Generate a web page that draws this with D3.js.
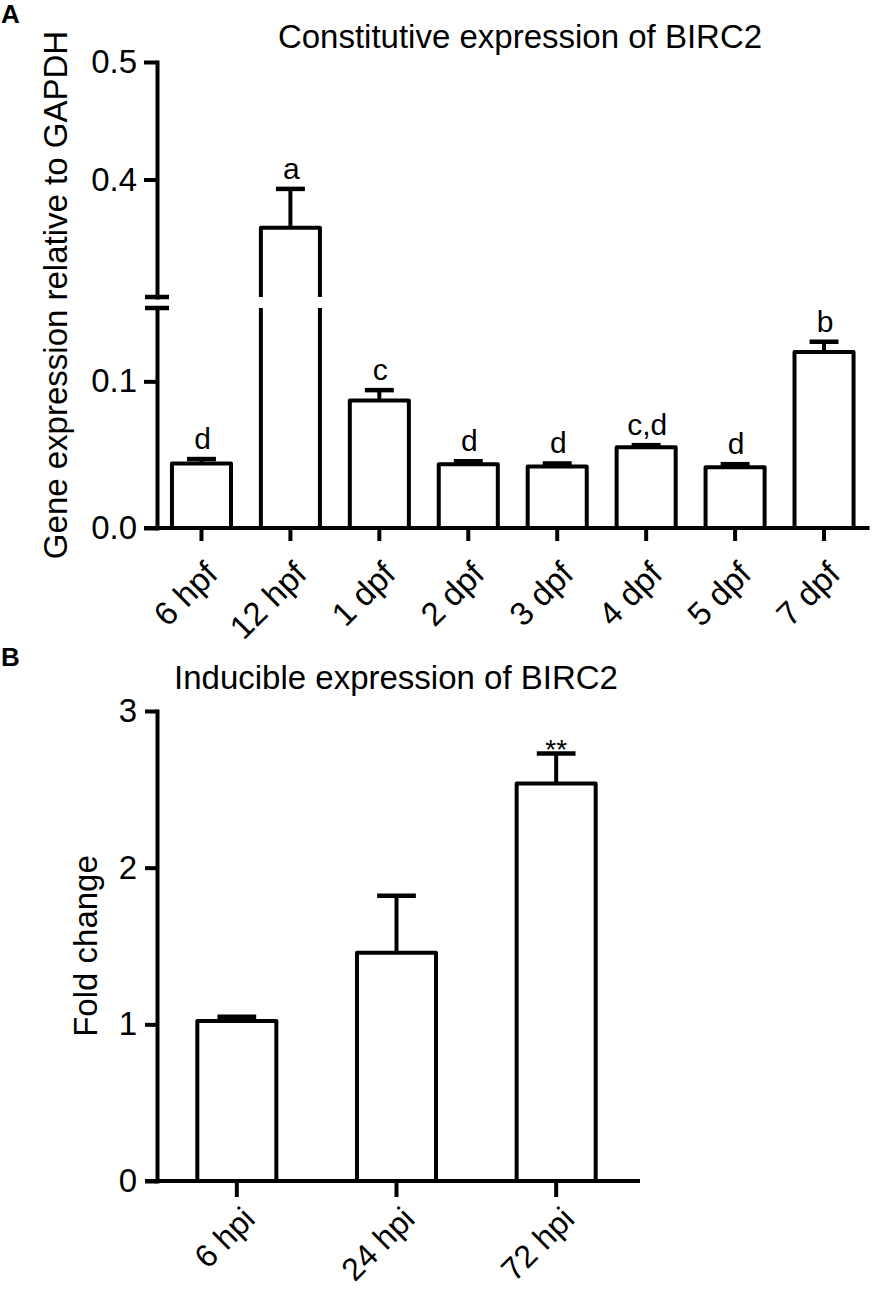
<!DOCTYPE html>
<html lang="en">
<head>
<meta charset="UTF-8">
<title>BIRC2 expression</title>
<style>
  body { margin: 0; background: #fff; }
  svg { display: block; font-family: "Liberation Sans", Arial, Helvetica, sans-serif; }
  .axis path, .axis line { stroke: #000; stroke-width: 4; }
  .axis path { stroke-linecap: square; }
  .axis text { font-size: 33px; fill: #000; }
  .bar { fill: #fff; stroke: #000; stroke-width: 4; stroke-linejoin: round; }
  .err { fill: none; stroke: #000; stroke-width: 4; }
  .cap { stroke: #000; stroke-width: 4.5; }
  .title, .ylab { font-size: 33px; fill: #000; }
  .sig { font-size: 30px; fill: #000; text-anchor: middle; }
</style>
</head>
<body>
<svg id="chart" width="872" height="1290"></svg>
<script src="https://d3js.org/d3.v7.min.js"></script>
<script>
// ---- panel A: constitutive expression ----
const stagesA = ['6 hpf', '12 hpf', '1 dpf', '2 dpf', '3 dpf', '4 dpf', '5 dpf', '7 dpf'];
const meanA = [0.044, 0.359, 0.087, 0.0435, 0.042, 0.055, 0.0415, 0.120];
const semA = [0.003, 0.033, 0.007, 0.002, 0.002, 0.0015, 0.002, 0.007];
const lettersA = ['d', 'a', 'c', 'd', 'd', 'c,d', 'd', 'b'];
const lowDomainA = [0, 0.15];   // below the axis break
const highDomainA = [0.3, 0.5]; // above the axis break
const lowTicksA = [0, 0.1];
const highTicksA = [0.4, 0.5];

// ---- panel B: inducible expression ----
const timesB = ['6 hpi', '24 hpi', '72 hpi'];
const meanB = [1.022, 1.457, 2.537];
const semB = [0.026, 0.364, 0.191];
const marksB = ['', '', '**'];
const ticksB = [0, 1, 2, 3];

const svg = d3.select('#chart');

// panel letters
svg.append('text').attr('x', 1).attr('y', 23)
  .style('font-size', '26px').style('font-weight', 'bold').text('A');
svg.append('text').attr('x', 1).attr('y', 666)
  .style('font-size', '26px').style('font-weight', 'bold').text('B');

// ================= Panel A =================
const axA = 157, baseA = 528;
const xA = d3.scaleBand().domain(stagesA).range([axA, 868.5])
    .paddingInner(0.336).paddingOuter(0.168);
const yLow = d3.scaleLinear().domain(lowDomainA).range([baseA, 308]);
const yHigh = d3.scaleLinear().domain(highDomainA).range([297, 62]);
const yA = v => v <= lowDomainA[1] ? yLow(v) : yHigh(v);

const gA = svg.append('g');

// y axis, two segments
gA.append('g').attr('class', 'axis').attr('transform', `translate(${axA},0)`)
    .call(d3.axisLeft(yLow).tickValues(lowTicksA).tickFormat(d3.format('.1f'))
        .tickSize(13).tickSizeOuter(0).tickPadding(7));
gA.append('g').attr('class', 'axis').attr('transform', `translate(${axA},0)`)
    .call(d3.axisLeft(yHigh).tickValues(highTicksA).tickFormat(d3.format('.1f'))
        .tickSize(13).tickSizeOuter(0).tickPadding(7));

// break marks
[yLow(lowDomainA[1]), yHigh(highDomainA[0])].forEach(y => {
  gA.append('line').attr('class', 'cap')
    .attr('x1', axA - 12).attr('x2', axA + 12).attr('y1', y).attr('y2', y);
});

// bars
gA.selectAll('.bar').data(meanA).join('path')
  .attr('class', 'bar')
  .attr('d', (v, i) => {
    const x0 = xA(stagesA[i]), x1 = x0 + xA.bandwidth();
    const p = d3.path();
    if (v <= lowDomainA[1]) {
      p.moveTo(x0, baseA); p.lineTo(x0, yA(v)); p.lineTo(x1, yA(v)); p.lineTo(x1, baseA);
    } else {
      const yb = yLow(lowDomainA[1]), yt = yHigh(highDomainA[0]);
      p.moveTo(x0, baseA); p.lineTo(x0, yb);
      p.moveTo(x0, yt); p.lineTo(x0, yA(v)); p.lineTo(x1, yA(v)); p.lineTo(x1, yt);
      p.moveTo(x1, yb); p.lineTo(x1, baseA);
    }
    return p.toString();
  })
  .style('fill', (v) => v <= lowDomainA[1] ? '#fff' : 'none');

// error bars (upper only)
meanA.forEach((v, i) => {
  const cx = xA(stagesA[i]) + xA.bandwidth() / 2;
  const top = yA(v + semA[i]);
  const hw = xA.bandwidth() * 0.245;
  gA.append('line').attr('class', 'err').attr('x1', cx).attr('x2', cx)
    .attr('y1', yA(v)).attr('y2', top);
  gA.append('line').attr('class', 'cap').attr('x1', cx - hw).attr('x2', cx + hw)
    .attr('y1', top).attr('y2', top);
  gA.append('text').attr('class', 'sig').attr('x', cx + 1).attr('y', top - 10)
    .text(lettersA[i]);
});

// x axis
const xAxisA = gA.append('g').attr('class', 'axis').attr('transform', `translate(0,${baseA})`)
    .call(d3.axisBottom(xA).tickSize(13).tickSizeOuter(0));
xAxisA.select('.domain').remove();
xAxisA.append('line').attr('x1', axA - 13).attr('x2', xA.range()[1] + 1)
    .attr('y1', 0).attr('y2', 0).attr('stroke', '#000').attr('stroke-width', 4);
xAxisA.selectAll('.tick text')
  .attr('text-anchor', 'end').attr('dy', null).attr('y', null)
  .attr('transform', 'translate(18,48) rotate(-45)');

// titles
gA.append('text').attr('class', 'title').attr('text-anchor', 'middle')
  .attr('x', 520).attr('y', 48).text('Constitutive expression of BIRC2');
gA.append('text').attr('class', 'ylab').attr('text-anchor', 'middle')
  .attr('transform', `translate(67,${(baseA + 62) / 2}) rotate(-90)`)
  .text('Gene expression relative to GAPDH');

// ================= Panel B =================
const axB = 157, baseB = 1181;
const xB = d3.scaleBand().domain(timesB).range([axB, 636])
    .paddingInner(0.505).paddingOuter(0.2525);
const yB = d3.scaleLinear().domain([0, 3]).range([baseB, 711]);

const gB = svg.append('g');
gB.append('g').attr('class', 'axis').attr('transform', `translate(${axB},0)`)
    .call(d3.axisLeft(yB).tickValues(ticksB).tickFormat(d3.format('d'))
        .tickSize(12).tickSizeOuter(0).tickPadding(8));

gB.selectAll('.bar').data(meanB).join('path')
  .attr('class', 'bar')
  .attr('d', (v, i) => {
    const x0 = xB(timesB[i]), x1 = x0 + xB.bandwidth();
    const p = d3.path();
    p.moveTo(x0, baseB); p.lineTo(x0, yB(v)); p.lineTo(x1, yB(v)); p.lineTo(x1, baseB);
    return p.toString();
  });

meanB.forEach((v, i) => {
  const cx = xB(timesB[i]) + xB.bandwidth() / 2;
  const top = yB(v + semB[i]);
  const hw = xB.bandwidth() * 0.245;
  gB.append('line').attr('class', 'err').attr('x1', cx).attr('x2', cx)
    .attr('y1', yB(v)).attr('y2', top);
  gB.append('line').attr('class', 'cap').attr('x1', cx - hw).attr('x2', cx + hw)
    .attr('y1', top).attr('y2', top);
  if (marksB[i]) {
    gB.append('text').attr('class', 'sig').style('font-size', '28px')
      .attr('x', cx).attr('y', top + 5).text(marksB[i]);
  }
});

const xAxisB = gB.append('g').attr('class', 'axis').attr('transform', `translate(0,${baseB})`)
    .call(d3.axisBottom(xB).tickSize(16).tickSizeOuter(0));
xAxisB.select('.domain').remove();
xAxisB.append('line').attr('x1', axB - 12).attr('x2', xB.range()[1] + 4)
    .attr('y1', 0).attr('y2', 0).attr('stroke', '#000').attr('stroke-width', 4);
xAxisB.selectAll('.tick text')
  .attr('text-anchor', 'end').attr('dy', null).attr('y', null)
  .style('font-size', '32px')
  .attr('transform', 'translate(20,40) rotate(-45)');

gB.append('text').attr('class', 'title').attr('text-anchor', 'middle')
  .attr('x', 396).attr('y', 689).text('Inducible expression of BIRC2');
gB.append('text').attr('class', 'ylab').attr('text-anchor', 'middle')
  .attr('transform', `translate(97,${(baseB + 711) / 2}) rotate(-90)`)
  .text('Fold change');

// let the stylesheet govern axis fonts
svg.selectAll('.axis').attr('font-family', null).attr('font-size', null);
</script>
</body>
</html>
